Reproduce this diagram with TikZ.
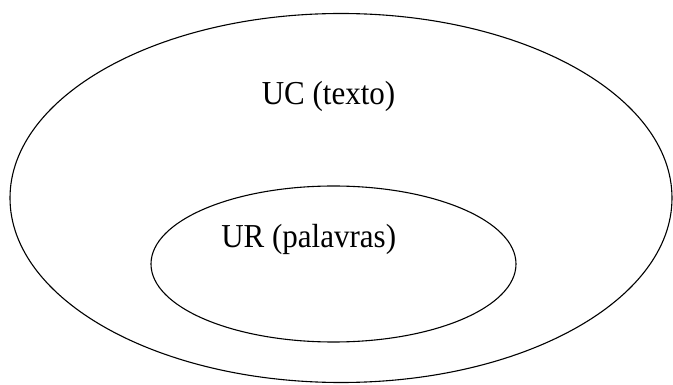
\documentclass[tikz,border=0pt]{standalone}
\usepackage{fontspec}
\setmainfont{Liberation Serif}
\usetikzlibrary{shapes.geometric}

\begin{document}
\begin{tikzpicture}[
  x=1pt, y=-1pt,
  unit/.style={draw, ellipse, line width=1.1pt, inner sep=0pt},
  lbl/.style={font=\fontsize{31}{36}\selectfont, anchor=base, inner sep=0pt, yscale=1.08}
]
\useasboundingbox (0,0) rectangle (673,385);
\node[unit, minimum width=662pt, minimum height=369pt] (uc) at (341,198) {};
\node[unit, minimum width=365pt, minimum height=156pt] (ur) at (333.5,264) {};
\node[lbl] (uctxt) at (328.5,105) {UC (texto)};
\node[lbl] (urtxt) at (308.7,248) {UR (palavras)};
\end{tikzpicture}
\end{document}
